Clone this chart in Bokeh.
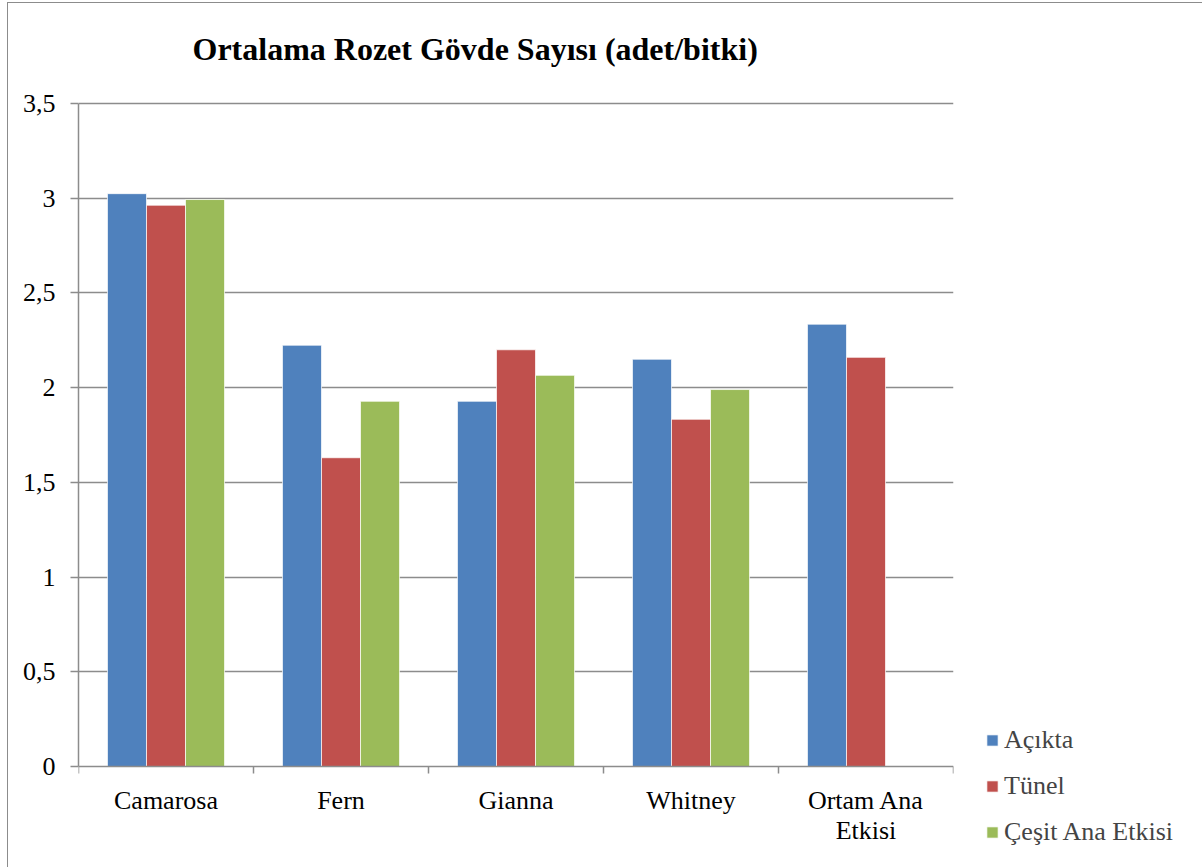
from bokeh.plotting import figure
from bokeh.models import (ColumnDataSource, FixedTicker, Legend, LegendItem, Label)
from bokeh.embed import file_html
from bokeh.resources import INLINE

categories = ["Camarosa", "Fern", "Gianna", "Whitney", "Ortam Ana\nEtkisi"]
series_names = ["Açıkta", "Tünel", "Çeşit Ana Etkisi"]
acikta = [3.024, 2.224, 1.928, 2.150, 2.335]
tunel = [2.963, 1.630, 2.200, 1.833, 2.160]
cesit = [2.993, 1.928, 2.065, 1.990, None]
colors = ["#4F81BD", "#C0504D", "#9BBB59"]
y_ticks = [0, 0.5, 1, 1.5, 2, 2.5, 3, 3.5]
y_tick_labels = ["0", "0,5", "1", "1,5", "2", "2,5", "3", "3,5"]
title_text = "Ortalama Rozet Gövde Sayısı (adet/bitki)"

FONT = "Liberation Serif"
AXIS_GRAY = "#8C8C8C"

# frame covers full height; value axis occupies 0..3.5 (y=766..103 px)
p = figure(frame_width=875, frame_height=867, output_backend="svg", toolbar_location=None,
           x_range=(0, len(categories)), y_range=(-0.533, 4.0437),
           min_border_left=78, min_border_right=249, min_border_top=0,
           min_border_bottom=0)
p.outline_line_color = None
p.border_fill_color = "white"
p.background_fill_color = "white"

bar_w = 0.223
offsets = [-bar_w, 0, bar_w]
renderers = []
for vals, off, col in zip([acikta, tunel, cesit], offsets, colors):
    xs, ys = [], []
    for i, v in enumerate(vals):
        if v is not None:
            xs.append(i + 0.5 + off)
            ys.append(v)
    src = ColumnDataSource(dict(x=xs, top=ys))
    r = p.vbar(x="x", top="top", width=bar_w, bottom=0, source=src,
               fill_color=col, line_color="white", line_alpha=0.7, line_width=1)
    renderers.append(r)

# x axis drawn at y = 0
xa = p.xaxis[0]
xa.fixed_location = 0
xa.bounds = (0, len(categories))
xa.ticker = FixedTicker(ticks=[i + 0.5 for i in range(len(categories))],
                        minor_ticks=list(range(len(categories) + 1)))
xa.major_label_overrides = {i + 0.5: c for i, c in enumerate(categories)}
xa.major_tick_out = 0
xa.major_tick_in = 0
xa.minor_tick_out = 7
xa.minor_tick_in = 0
xa.minor_tick_line_color = AXIS_GRAY
xa.minor_tick_line_width = 1.5
xa.axis_line_color = AXIS_GRAY
xa.axis_line_width = 1.5
xa.major_label_text_font = FONT
xa.major_label_text_font_size = "26px"
xa.major_label_text_color = "black"
xa.major_label_text_line_height = 1.05
xa.major_label_standoff = 12

ya = p.yaxis[0]
ya.bounds = (0, 3.5)
ya.ticker = FixedTicker(ticks=y_ticks, minor_ticks=[])
ya.major_label_overrides = {t: l for t, l in zip(y_ticks, y_tick_labels)}
ya.major_tick_out = 8
ya.major_tick_in = 0
ya.major_tick_line_color = AXIS_GRAY
ya.major_tick_line_width = 1.5
ya.axis_line_color = AXIS_GRAY
ya.axis_line_width = 1.5
ya.major_label_text_font = FONT
ya.major_label_text_font_size = "26px"
ya.major_label_text_color = "black"
ya.major_label_standoff = 15

p.xgrid.grid_line_color = None
p.ygrid.ticker = FixedTicker(ticks=y_ticks[1:])
p.ygrid.grid_line_color = AXIS_GRAY
p.ygrid.grid_line_width = 1.5
p.ygrid.level = "underlay"

# title (screen units inside the frame)
p.add_layout(Label(x=114, y=819, x_units="screen", y_units="screen", text=title_text,
                   text_font=FONT, text_font_size="32px", text_font_style="bold",
                   text_color="black", text_align="left", text_baseline="middle"))

legend = Legend(items=[LegendItem(label=n, renderers=[r]) for n, r in zip(series_names, renderers)],
                location=(32, 20), orientation="vertical",
                glyph_width=14, glyph_height=14, label_height=26,
                label_text_font=FONT, label_text_font_size="26px",
                label_standoff=5, spacing=16, padding=0, margin=0,
                border_line_color=None, background_fill_alpha=0)
p.add_layout(legend, "right")

html = file_html(p, INLINE)
frame_div = ('<div style="position:fixed;left:7px;top:2px;width:1300px;height:864px;'
             'border-left:1.5px solid #8C8C8C;border-top:1.5px solid #8C8C8C;'
             'border-bottom:1px solid #EEEEEE;pointer-events:none;z-index:10"></div>')
html = html.replace("</body>", frame_div + "</body>")
html = html.replace("</head>", "<style>body{margin:0}</style></head>")
open("out.html", "w").write(html)
